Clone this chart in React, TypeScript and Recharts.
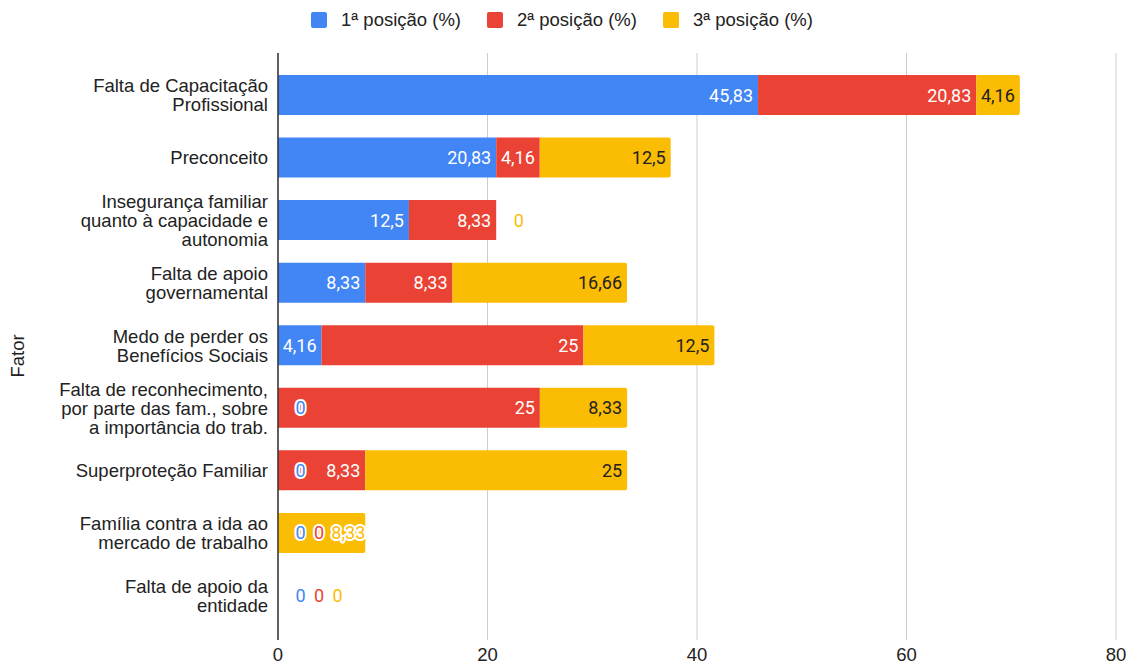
import { Bar, BarChart, CartesianGrid, LabelList, Legend, XAxis, YAxis } from 'recharts';

const categories = [
    'Falta de Capacitação\nProfissional',
    'Preconceito',
    'Insegurança familiar\nquanto à capacidade e\nautonomia',
    'Falta de apoio\ngovernamental',
    'Medo de perder os\nBenefícios Sociais',
    'Falta de reconhecimento,\npor parte das fam., sobre\na importância do trab.',
    'Superproteção Familiar',
    'Família contra a ida ao\nmercado de trabalho',
    'Falta de apoio da\nentidade',
];

const primeira = [45.83, 20.83, 12.5, 8.33, 4.16, 0, 0, 0, 0];
const segunda = [20.83, 4.16, 8.33, 8.33, 25, 25, 8.33, 0, 0];
const terceira = [4.16, 12.5, 0, 16.66, 12.5, 8.33, 25, 8.33, 0];

const seriesNames = ['1ª posição (%)', '2ª posição (%)', '3ª posição (%)'];
const seriesKeys = ['p1', 'p2', 'p3'];
const seriesColors = ['#4285f4', '#ea4335', '#fbbc04'];
const insideTextColors = ['#ffffff', '#ffffff', '#222222'];
const xTicks = [0, 20, 40, 60, 80];

const data = categories.map((name, i) => ({ name, p1: primeira[i], p2: segunda[i], p3: terceira[i] }));
const rows = categories.map((_, i) => [primeira[i], segunda[i], terceira[i]]);

const axisFont = "'Liberation Sans', Arial, sans-serif";
const labelFont = "Roboto, 'Liberation Sans', sans-serif";
const axisSize = 18.5;

const fmt = (v: number) => String(v).replace('.', ',');
const textWidth = (s: string) => s.split('').reduce((w, c) => w + (c === ',' ? 4 : 10.1), 0);

// google-style annotations: inside the bar end, zeros pushed out with a white halo
function renderBarLabel(props: any, s: number) {
    const vb = props.viewBox ?? {};
    const x = Number(props.x ?? vb.x);
    const y = Number(props.y ?? vb.y);
    const width = Math.max(0, Number(props.width ?? vb.width ?? 0));
    const height = Number(props.height ?? vb.height ?? 0);
    const index = props.index as number;
    const value = rows[index][s];
    const zerosBefore = rows[index].slice(0, s).filter((v) => v === 0).length;
    const cy = y + height / 2;
    const label = fmt(value);
    const halo = {
        fill: seriesColors[s],
        stroke: '#ffffff',
        strokeWidth: 4,
        paintOrder: 'stroke' as const,
        strokeLinejoin: 'round' as const,
    };

    if (value === 0) {
        return (
            <text key={`l-${s}-${index}`} x={x + 17.5 + zerosBefore * 18.5} y={cy} dominantBaseline="central"
                fontFamily={labelFont} fontSize={18} {...halo}>
                {label}
            </text>
        );
    }

    const tw = textWidth(label);
    const left = x + width - 5 - tw;
    const lastZeroRight = zerosBefore > 0 ? x + 17.5 + (zerosBefore - 1) * 18.5 + 10 : -Infinity;
    const crowded = left - lastZeroRight < 8 || tw + 6 > width;

    if (crowded) {
        return (
            <text key={`l-${s}-${index}`} x={x + width} y={cy} textAnchor="end" dominantBaseline="central"
                fontFamily={labelFont} fontSize={18} {...halo}>
                {label}
            </text>
        );
    }

    return (
        <text key={`l-${s}-${index}`} x={x + width - 5} y={cy} textAnchor="end" dominantBaseline="central"
            fontFamily={labelFont} fontSize={18} fill={insideTextColors[s]}>
            {label}
        </text>
    );
}

function CategoryTick(props: any) {
    const { x, y, payload } = props;
    const lines = String(payload.value).split('\n');
    const step = 19;
    const start = -((lines.length - 1) / 2) * step;
    return (
        <text x={x - 2} y={y} textAnchor="end" fontFamily={axisFont} fontSize={axisSize} fill="#222222">
            {lines.map((line, i) => (
                <tspan key={i} x={x - 2} y={y + start + i * step} dominantBaseline="central">
                    {line}
                </tspan>
            ))}
        </text>
    );
}

function TopLegend() {
    return (
        <div style={{ height: 53, display: 'flex', justifyContent: 'center', alignItems: 'flex-start', paddingLeft: 8, boxSizing: 'border-box' }}>
            {seriesNames.map((name, i) => (
                <div key={name} style={{ display: 'flex', alignItems: 'center', margin: '9px 13px 0', fontFamily: axisFont, fontSize: axisSize, color: '#222222' }}>
                    <span style={{ width: 16, height: 16, borderRadius: 2, background: seriesColors[i], marginRight: 14, display: 'inline-block' }} />
                    {name}
                </div>
            ))}
        </div>
    );
}

export default function App() {
    return (
        <div style={{ position: 'absolute', left: 0, top: 0, background: '#ffffff' }}>
            <BarChart width={1133} height={667} data={data} layout="vertical" barSize={40}
                margin={{ top: 0, right: 17, bottom: 0, left: 0 }}>
                <Legend verticalAlign="top" content={() => <TopLegend />} />
                <CartesianGrid horizontal={false} stroke="#cccccc" strokeWidth={1} />
                <XAxis type="number" domain={[0, 80]} ticks={xTicks} axisLine={false} tickLine={false}
                    tickSize={0} tickMargin={8} height={27} interval={0}
                    tick={{ fontFamily: axisFont, fontSize: axisSize, fill: '#222222' }} />
                <YAxis type="category" dataKey="name" width={278} tickLine={false} tickSize={0} tickMargin={8}
                    axisLine={{ stroke: '#333333', strokeWidth: 1.5 }} padding={{ top: 11, bottom: 13 }}
                    tick={<CategoryTick />} interval={0}
                    label={() => (
                        <text transform="translate(24, 356) rotate(-90)" textAnchor="middle"
                            fontFamily={axisFont} fontSize={axisSize} fill="#222222">
                            Fator
                        </text>
                    )} />
                {seriesKeys.map((key, s) => (
                    <Bar key={key} dataKey={key} name={seriesNames[s]} stackId="a" fill={seriesColors[s]}
                        isAnimationActive={false} minPointSize={0.001} radius={s === 2 ? [0, 2, 2, 0] : 0}>
                        <LabelList dataKey={key} content={(p: any) => renderBarLabel(p, s)} />
                    </Bar>
                ))}
            </BarChart>
        </div>
    );
}
